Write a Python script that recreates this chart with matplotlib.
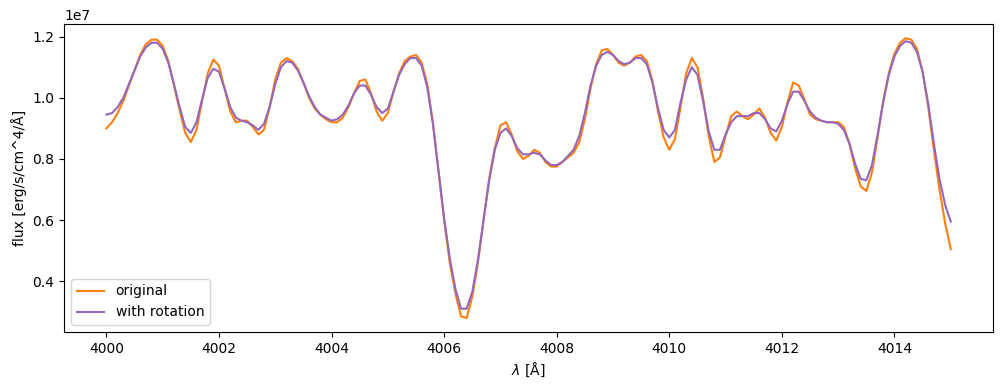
import numpy as np
import matplotlib
matplotlib.use("Agg")
import matplotlib.pyplot as plt

# wavelength grid, 0.1 A steps
wave = np.round(np.arange(4000.0, 4015.05, 0.1), 1)

# flux in units of 1e6 erg/s/cm^4/A
flux_original = [
    9.0, 9.2, 9.5, 9.9, 10.4, 10.9, 11.4, 11.75, 11.9, 11.9,
    11.7, 11.2, 10.4, 9.6, 8.85, 8.55, 8.95, 9.9, 10.8, 11.25,
    11.05, 10.3, 9.55, 9.2, 9.25, 9.25, 9.05, 8.8, 8.95, 9.7,
    10.6, 11.15, 11.3, 11.2, 10.95, 10.5, 10.0, 9.65, 9.45, 9.3,
    9.2, 9.2, 9.35, 9.7, 10.15, 10.55, 10.6, 10.15, 9.55, 9.25,
    9.5, 10.2, 10.8, 11.2, 11.35, 11.4, 11.15, 10.45, 9.2, 7.6,
    6.0, 4.6, 3.6, 2.85, 2.8, 3.5, 4.6, 6.0, 7.35, 8.35,
    9.1, 9.2, 8.8, 8.25, 8.0, 8.1, 8.3, 8.2, 7.9, 7.75,
    7.75, 7.9, 8.05, 8.2, 8.55, 9.3, 10.3, 11.1, 11.55, 11.6,
    11.4, 11.15, 11.05, 11.15, 11.35, 11.4, 11.2, 10.55, 9.55, 8.7,
    8.3, 8.65, 9.7, 10.8, 11.3, 11.0, 10.0, 8.75, 7.9, 8.05,
    8.75, 9.4, 9.55, 9.4, 9.3, 9.45, 9.65, 9.35, 8.85, 8.6,
    9.05, 9.85, 10.5, 10.4, 9.95, 9.45, 9.3, 9.25, 9.2, 9.2,
    9.2, 9.05, 8.5, 7.7, 7.1, 6.95, 7.55, 8.7, 9.9, 10.8,
    11.45, 11.8, 11.95, 11.9, 11.6, 10.85, 9.7, 8.3, 7.0, 5.9,
    5.05,
]

flux_rotation = [
    9.45, 9.5, 9.7, 10.0, 10.45, 10.9, 11.35, 11.65, 11.8, 11.8,
    11.6, 11.15, 10.45, 9.7, 9.05, 8.85, 9.2, 9.95, 10.65, 10.95,
    10.85, 10.3, 9.7, 9.35, 9.25, 9.2, 9.1, 8.95, 9.15, 9.7,
    10.45, 11.0, 11.2, 11.15, 10.9, 10.5, 10.05, 9.7, 9.45, 9.35,
    9.25, 9.3, 9.45, 9.75, 10.15, 10.4, 10.4, 10.1, 9.7, 9.5,
    9.65, 10.2, 10.75, 11.1, 11.3, 11.3, 11.05, 10.35, 9.15, 7.6,
    6.05, 4.75, 3.75, 3.1, 3.1, 3.65, 4.7, 6.0, 7.3, 8.3,
    8.85, 9.0, 8.75, 8.35, 8.15, 8.15, 8.2, 8.15, 7.95, 7.8,
    7.8, 7.9, 8.1, 8.3, 8.75, 9.5, 10.4, 11.05, 11.4, 11.5,
    11.4, 11.2, 11.1, 11.15, 11.3, 11.3, 11.1, 10.5, 9.65, 8.95,
    8.7, 8.95, 9.85, 10.6, 11.0, 10.75, 9.9, 8.9, 8.3, 8.3,
    8.8, 9.2, 9.4, 9.4, 9.4, 9.5, 9.5, 9.3, 9.0, 8.9,
    9.25, 9.8, 10.2, 10.2, 9.9, 9.55, 9.35, 9.25, 9.2, 9.2,
    9.15, 8.95, 8.5, 7.85, 7.35, 7.3, 7.8, 8.8, 9.85, 10.75,
    11.35, 11.7, 11.85, 11.8, 11.5, 10.85, 9.8, 8.5, 7.35, 6.5,
    5.95,
]

orig = np.array(flux_original) * 1e6
rot = np.array(flux_rotation) * 1e6

fig, ax = plt.subplots(figsize=(10.03, 3.9), dpi=100)
ax.plot(wave, orig, color='tab:orange', label='original')
ax.plot(wave, rot, color='tab:purple', label='with rotation')
ax.set_xlabel(r'$\lambda$ [Å]')
ax.set_ylabel('flux [erg/s/cm^4/Å]')
ax.legend(loc='lower left')
fig.subplots_adjust(left=0.064, right=0.990, top=0.938, bottom=0.149)
fig.savefig('out.png')
